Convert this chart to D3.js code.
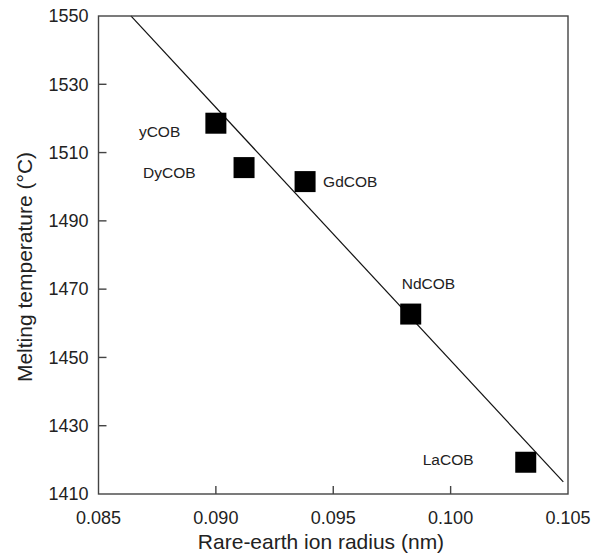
<!DOCTYPE html>
<html>
<head>
<meta charset="utf-8">
<script src="https://cdn.jsdelivr.net/npm/d3@7"></script>
<style>
  body { margin: 0; background: #fff; }
  svg { display: block; font-family: Arial, "Liberation Sans", sans-serif; }
  .frame { fill: none; stroke: #444; stroke-width: 1.4; }
  .tick-label { font-size: 18px; fill: #222; }
  .axis-title { font-size: 21px; fill: #222; }
  .point-label { font-size: 15.5px; fill: #222; }
</style>
</head>
<body>
<div id="chart"></div>
<script>
// Data
const compounds = ['yCOB', 'DyCOB', 'GdCOB', 'NdCOB', 'LaCOB'];
const ionRadius = [0.0900, 0.0912, 0.0938, 0.0983, 0.1032];
const meltTemp = [1518.6, 1505.6, 1501.5, 1462.7, 1419.3];

// Linear fit drawn across the plot
const fitSlope = -7410;
const fitIntercept = 2190.1;
const fitRange = [0.08638, 0.1048];

const xTicks = [0.085, 0.090, 0.095, 0.100, 0.105];
const yTicks = [1410, 1430, 1450, 1470, 1490, 1510, 1530, 1550];

// label offsets from the marker centre (px)
const labelOffsets = [[-77, 8], [-101, 5], [18, 0], [-9, -30], [-103, -3]];

const width = 601, height = 554;
const margin = { top: 16, right: 33, bottom: 60, left: 98.5 };

const svg = d3.select('#chart').append('svg')
    .attr('width', width)
    .attr('height', height);

const x = d3.scaleLinear().domain([0.085, 0.105]).range([margin.left, width - margin.right]);
const y = d3.scaleLinear().domain([1410, 1550]).range([height - margin.bottom, margin.top]);

// Fit line (drawn first, under markers)
svg.append('line')
    .attr('x1', x(fitRange[0]))
    .attr('y1', y(fitIntercept + fitSlope * fitRange[0]))
    .attr('x2', x(fitRange[1]))
    .attr('y2', y(fitIntercept + fitSlope * fitRange[1]))
    .attr('stroke', '#111')
    .attr('stroke-width', 1.2);

// Frame
svg.append('rect')
    .attr('class', 'frame')
    .attr('x', x(0.085))
    .attr('y', y(1550))
    .attr('width', x(0.105) - x(0.085))
    .attr('height', y(1410) - y(1550));

// Inward ticks
const tickLen = 8;
svg.selectAll('.ytick')
    .data(yTicks.slice(1, -1))
    .enter()
    .append('line')
    .attr('class', 'frame')
    .attr('x1', x(0.085))
    .attr('x2', x(0.085) + tickLen)
    .attr('y1', d => y(d))
    .attr('y2', d => y(d));

svg.selectAll('.xtick')
    .data(xTicks.slice(1, -1))
    .enter()
    .append('line')
    .attr('class', 'frame')
    .attr('x1', d => x(d))
    .attr('x2', d => x(d))
    .attr('y1', y(1410))
    .attr('y2', y(1410) - tickLen);

// Tick labels
svg.selectAll('.ylab')
    .data(yTicks)
    .enter()
    .append('text')
    .attr('class', 'tick-label')
    .attr('x', x(0.085) - 10)
    .attr('y', d => y(d))
    .attr('dy', '0.35em')
    .attr('text-anchor', 'end')
    .text(d => d);

svg.selectAll('.xlab')
    .data(xTicks)
    .enter()
    .append('text')
    .attr('class', 'tick-label')
    .attr('x', d => x(d))
    .attr('y', y(1410) + 30)
    .attr('text-anchor', 'middle')
    .text(d => d3.format('.3f')(d));

// Axis titles
svg.append('text')
    .attr('class', 'axis-title')
    .attr('x', 321)
    .attr('y', 548.5)
    .attr('text-anchor', 'middle')
    .text('Rare-earth ion radius (nm)');

svg.append('text')
    .attr('class', 'axis-title')
    .attr('transform', 'translate(32,' + ((y(1410) + y(1550)) / 2 + 12) + ') rotate(-90)')
    .attr('text-anchor', 'middle')
    .text('Melting temperature (°C)');

// Markers
const pts = compounds.map((c, i) => ({ name: c, r: ionRadius[i], t: meltTemp[i], off: labelOffsets[i] }));
const sq = 21;
svg.selectAll('.pt')
    .data(pts)
    .enter()
    .append('rect')
    .attr('x', d => x(d.r) - sq / 2)
    .attr('y', d => y(d.t) - sq / 2)
    .attr('width', sq)
    .attr('height', sq)
    .attr('fill', '#000');

svg.selectAll('.point-label')
    .data(pts)
    .enter()
    .append('text')
    .attr('class', 'point-label')
    .attr('x', d => x(d.r) + d.off[0])
    .attr('y', d => y(d.t) + d.off[1])
    .attr('dy', '0.35em')
    .text(d => d.name);
</script>
</body>
</html>
